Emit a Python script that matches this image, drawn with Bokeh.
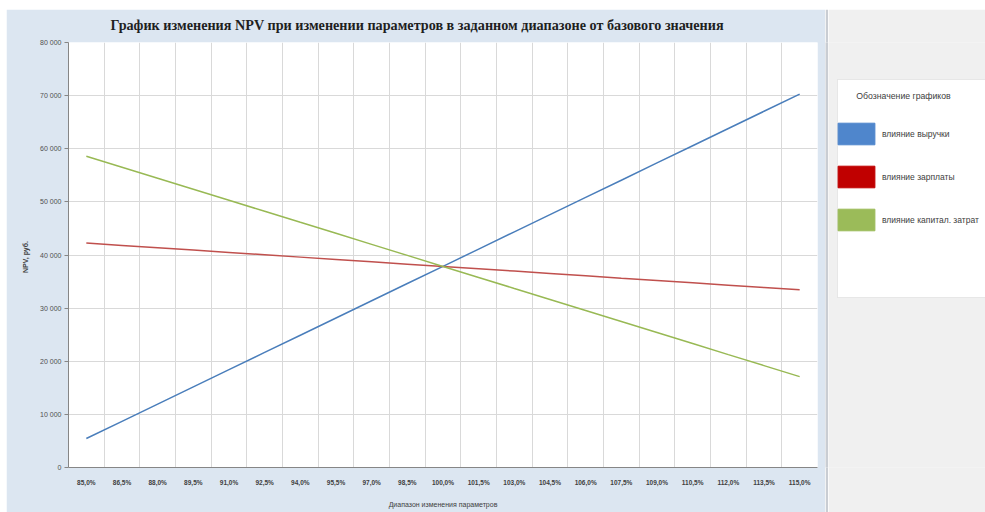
from bokeh.plotting import figure
from bokeh.models import (Range1d, FixedTicker, Title, Legend, LegendItem,
                          BoxAnnotation, Label)
from bokeh.layouts import row
from bokeh.embed import file_html
from bokeh.resources import INLINE

# ---------------- data ----------------
x_values = [85.0, 86.5, 88.0, 89.5, 91.0, 92.5, 94.0, 95.5, 97.0, 98.5, 100.0,
            101.5, 103.0, 104.5, 106.0, 107.5, 109.0, 110.5, 112.0, 113.5, 115.0]
x_tick_labels = ["85,0%", "86,5%", "88,0%", "89,5%", "91,0%", "92,5%", "94,0%",
                 "95,5%", "97,0%", "98,5%", "100,0%", "101,5%", "103,0%",
                 "104,5%", "106,0%", "107,5%", "109,0%", "110,5%", "112,0%",
                 "113,5%", "115,0%"]
revenue_npv = [5450, 8690, 11930, 15180, 18420, 21660, 24900, 28150, 31390,
               34630, 37870, 41110, 44360, 47600, 50840, 54080, 57330, 60570,
               63810, 67050, 70290]
salary_npv = [42250, 41810, 41360, 40920, 40480, 40040, 39600, 39160, 38720,
              38280, 37850, 37410, 36970, 36530, 36090, 35640, 35200, 34760,
              34320, 33880, 33440]
capex_npv = [58600, 56530, 54450, 52380, 50300, 48230, 46150, 44080, 42000,
             39930, 37850, 35780, 33700, 31630, 29550, 27480, 25400, 23330,
             21250, 19180, 17100]
y_ticks = [0, 10000, 20000, 30000, 40000, 50000, 60000, 70000, 80000]
y_tick_labels = ["0", "10 000", "20 000", "30 000", "40 000", "50 000",
                 "60 000", "70 000", "80 000"]
series_names = ["влияние выручки", "влияние зарплаты", "влияние капитал. затрат"]
line_colors = ["#4a7ebb", "#c0504d", "#98b954"]
swatch_colors = ["#4f86cc", "#c00000", "#9bbb59"]

title_text = "График изменения NPV при изменении параметров в заданном диапазоне от базового значения"
legend_title = "Обозначение графиков"

FONT = "Liberation Sans"
BLUE_BG = "#dce6f1"
GREY_BG = "#f0f0f0"

TOP, BOTTOM = 33, 45      # borders shared by all panels of the row
H = 503

# ---------------- main chart ----------------
step = x_values[1] - x_values[0]
p = figure(width=819, height=H, output_backend="svg", toolbar_location=None,
           x_range=Range1d(x_values[0] - step / 2, x_values[-1] + step / 2),
           y_range=Range1d(y_ticks[0], y_ticks[-1]),
           min_border_left=62, min_border_right=8, min_border_top=TOP,
           min_border_bottom=BOTTOM)
p.margin = (9, 0, 0, 6)
p.border_fill_color = BLUE_BG
p.background_fill_color = "white"
p.outline_line_color = None

t = Title(text=title_text, align="left", offset=42, vertical_align="top",
          text_font="Liberation Serif", text_font_style="bold",
          text_font_size="14.2px", text_color="#1f1f1f")
t.standoff = 15
p.add_layout(t, "above")

# x axis
p.xaxis.ticker = FixedTicker(ticks=x_values)
p.xaxis.major_label_overrides = {x: lab for x, lab in zip(x_values, x_tick_labels)}
p.xaxis.major_tick_out = 0
p.xaxis.major_tick_in = 0
p.xaxis.minor_tick_line_color = None
p.xaxis.major_label_standoff = 11
p.xaxis.major_label_text_font = FONT
p.xaxis.major_label_text_font_size = "6.5px"
p.xaxis.major_label_text_font_style = "bold"
p.xaxis.major_label_text_color = "#404040"
p.xaxis.axis_line_color = "#868686"
p.xaxis.axis_label = "Диапазон изменения параметров"
p.xaxis.axis_label_text_font = FONT
p.xaxis.axis_label_text_font_size = "7px"
p.xaxis.axis_label_text_font_style = "normal"
p.xaxis.axis_label_text_color = "#404040"
p.xaxis.axis_label_standoff = 12

# y axis
p.yaxis.ticker = FixedTicker(ticks=y_ticks)
p.yaxis.major_label_overrides = {v: lab for v, lab in zip(y_ticks, y_tick_labels)}
p.yaxis.major_tick_out = 4
p.yaxis.major_tick_in = 0
p.yaxis.major_tick_line_color = "#868686"
p.yaxis.minor_tick_line_color = None
p.yaxis.major_label_standoff = 3
p.yaxis.major_label_text_font = FONT
p.yaxis.major_label_text_font_size = "7px"
p.yaxis.major_label_text_color = "#505050"
p.yaxis.axis_line_color = "#868686"
p.yaxis.axis_label = "NPV,   руб."
p.yaxis.axis_label_text_font = FONT
p.yaxis.axis_label_text_font_size = "7px"
p.yaxis.axis_label_text_font_style = "bold"
p.yaxis.axis_label_text_color = "#404040"
p.yaxis.axis_label_standoff = 8

# grids
p.ygrid.grid_line_color = "#d9d9d9"
p.xgrid.ticker = FixedTicker(ticks=[x - step / 2 for x in x_values] + [x_values[-1] + step / 2])
p.xgrid.grid_line_color = "#d9d9d9"

for ys, col in zip([revenue_npv, salary_npv, capex_npv], line_colors):
    p.line(x_values, ys, line_color=col, line_width=1.5)

# ---------------- separator strip ----------------
sep = figure(width=3, height=H, output_backend="svg", toolbar_location=None,
             x_axis_type=None, y_axis_type=None,
             min_border_left=0, min_border_right=0, min_border_top=TOP,
             min_border_bottom=BOTTOM)
sep.margin = (9, 0, 0, 0)
sep.border_fill_color = "#c9cdd3"
sep.background_fill_color = "#c9cdd3"
sep.outline_line_color = None
sep.grid.visible = False

# ---------------- legend panel ----------------
# data coordinates of this panel equal page pixels (x: 828..985, y: 42..467)
QX0, QX1 = 828, 985
q = figure(width=QX1 - QX0, height=H, output_backend="svg", toolbar_location=None,
           x_axis_type=None, y_axis_type=None,
           x_range=Range1d(QX0, QX1), y_range=Range1d(467, 42),
           min_border_left=0, min_border_right=0, min_border_top=TOP,
           min_border_bottom=BOTTOM)
q.margin = (9, 0, 0, 0)
q.border_fill_color = GREY_BG
q.background_fill_color = GREY_BG
q.outline_line_color = None
q.grid.visible = False

q.add_layout(BoxAnnotation(left=837, right=995, top=79, bottom=297,
                           fill_color="white", fill_alpha=1.0,
                           line_color="#bfbfbf", line_width=1))
q.add_layout(Label(x=903, y=95, text=legend_title, text_align="center",
                   text_baseline="middle", text_font=FONT,
                   text_font_size="8.7px", text_color="#404040"))

items = []
for name, col in zip(series_names, swatch_colors):
    r = q.rect(x=[0], y=[0], width=1, height=1, fill_color=col,
               line_color=col, visible=False)
    items.append(LegendItem(label=name, renderers=[r]))

leg = Legend(items=items, location=(5, 234), padding=0, margin=0,
             glyph_width=46, glyph_height=27, spacing=16, label_standoff=3,
             label_text_font=FONT, label_text_font_size="8.5px",
             label_text_color="#404040", border_line_alpha=0,
             background_fill_alpha=0, inactive_fill_alpha=0)
q.add_layout(leg, "center")

layout = row(p, sep, q)
open("out.html", "w").write(file_html(layout, INLINE))
